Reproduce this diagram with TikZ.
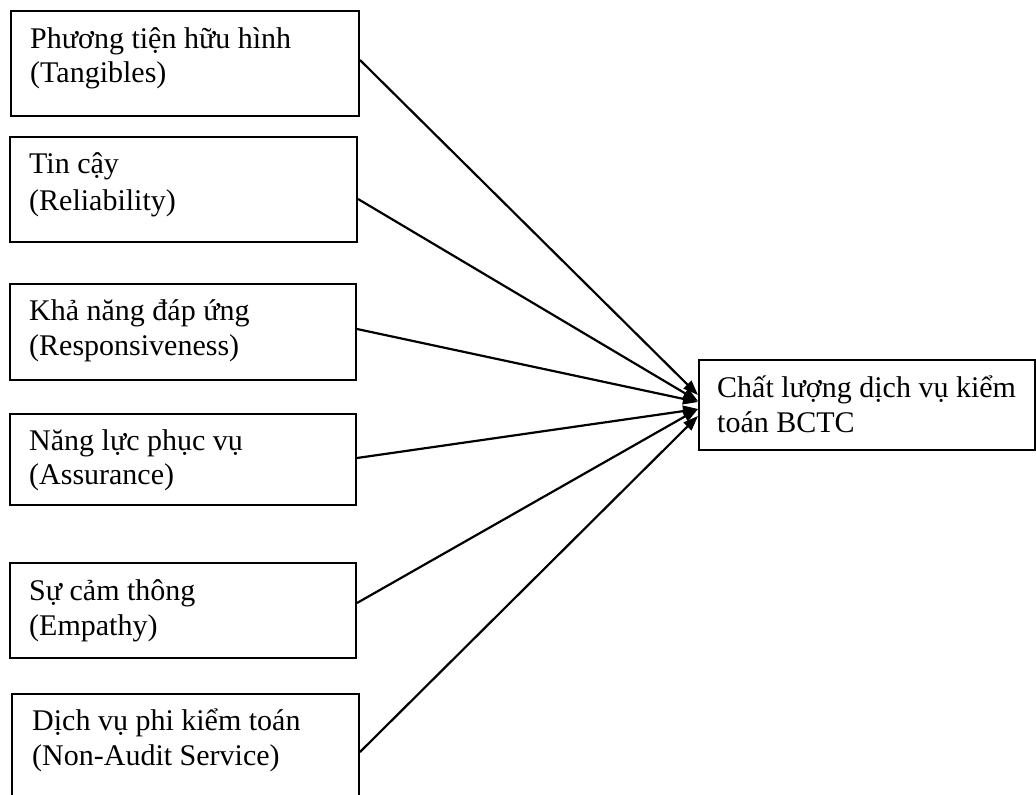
\documentclass[tikz,border=0pt]{standalone}
\usepackage{fontspec}
\setmainfont{Liberation Serif}
\usetikzlibrary{arrows.meta}
\begin{document}
\begin{tikzpicture}[x=1pt,y=-1pt,
  box/.style={draw=black, line width=2pt, inner sep=0pt, anchor=north west, fill=none},
  lbl/.style={anchor=base west, inner sep=0pt, font=\fontsize{30}{34.5}\selectfont},
  link/.style={line width=2.2pt, -{Triangle[length=15pt,width=11pt]}}]
\useasboundingbox (0,0) rectangle (1036,795);
% left boxes
\node[box, minimum width=348pt, minimum height=105pt] (b1) at (10,10) {};
\node[box, minimum width=347pt, minimum height=105pt] (b2) at (9,136) {};
\node[box, minimum width=346pt, minimum height=96pt] (b3) at (9,283) {};
\node[box, minimum width=346pt, minimum height=91pt] (b4) at (9,413) {};
\node[box, minimum width=346pt, minimum height=95pt] (b5) at (9,562) {};
\node[box, minimum width=347pt, minimum height=116pt] (b6) at (11,693) {};
% right box
\node[box, minimum width=336pt, minimum height=90pt] (r) at (698,359) {};
% texts
\node[lbl] (t1a) at (30,48) {Phương tiện hữu hình};
\node[lbl] (t1b) at (30,82) {(Tangibles)};
\node[lbl] (t2a) at (29,173) {Tin cậy};
\node[lbl] (t2b) at (29,210) {(Reliability)};
\node[lbl] (t3a) at (29,320) {Khả năng đáp ứng};
\node[lbl] (t3b) at (29,355) {(Responsiveness)};
\node[lbl] (t4a) at (29,450) {Năng lực phục vụ};
\node[lbl] (t4b) at (29,484) {(Assurance)};
\node[lbl] (t5a) at (29,600) {Sự cảm thông};
\node[lbl] (t5b) at (29,635) {(Empathy)};
\node[lbl] (t6a) at (32,730) {Dịch vụ phi kiểm toán};
\node[lbl] (t6b) at (32,765) {(Non-Audit Service)};
\node[lbl] (tra) at (717,397) {Chất lượng dịch vụ kiểm};
\node[lbl] (trb) at (717,432) {toán BCTC};
% connectors
\draw[link] ([yshift=3.5pt]b1.east) -- ([yshift=10pt]r.west);
\draw[link] ([yshift=-9.5pt]b2.east) -- ([yshift=4pt]r.west);
\draw[link] ([yshift=3pt]b3.east) -- ([yshift=3pt]r.west);
\draw[link] ([yshift=1.5pt]b4.east) -- ([yshift=-4pt]r.west);
\draw[link] ([yshift=7.5pt]b5.east) -- ([yshift=-4pt]r.west);
\draw[link] (b6.east) -- ([yshift=-11pt]r.west);
\end{tikzpicture}
\end{document}
